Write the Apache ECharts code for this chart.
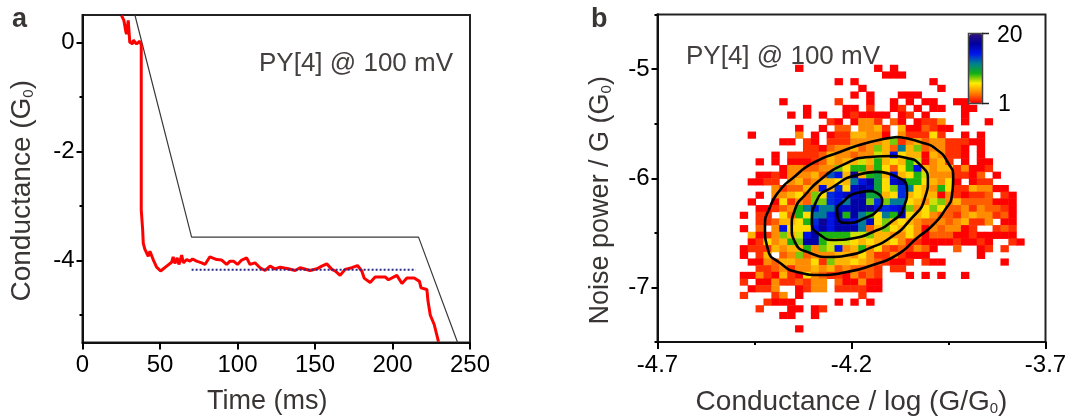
<!DOCTYPE html>
<html>
<head>
<meta charset="utf-8">
<style>html,body{margin:0;padding:0;background:#fff}#chart{width:1072px;height:416px}</style>
<script src="https://cdn.jsdelivr.net/npm/echarts@6/dist/echarts.min.js"></script>
</head>
<body>
<div id="chart"></div>
<script>
// panel a: conductance trace, ms / log G0
var traceTime = [25.2,26.7,28,28.4,29.5,30.5,32.4,32.7,34.9,37,37.9,37.9,37.9,38.8,39.2,40.2,42.4,43.5,44.6,45.6,47.8,50.4,54.3,57.5,58.5,59.6,61.1,62.2,64,65,67.2,69.3,71,73.6,76.9,79,82.2,86.6,89.8,93,95.2,97.4,100,102.7,105.9,108.1,111.3,114.5,117.8,121,124.2,127.5,132.8,137.2,140.4,146.8,151.2,154.4,157.6,160.9,163,166.2,169.4,173.8,177.4,180.2,181.7,185.6,188.8,195.3,197.4,202.8,206.1,209.3,214,217.4,218.4,222.2,222.9,224.4,226.9,229.7];
var traceValue = [0.49,0.4,0.19,0.15,0.4,0,-0.03,0.04,-0.03,0.02,-0.05,-1.5,-3.07,-3.43,-3.68,-3.79,-3.92,-3.83,-3.8,-3.98,-4.12,-4.19,-4.1,-4.03,-3.93,-4.05,-3.95,-4.07,-3.9,-4.04,-3.98,-4.01,-3.97,-4.01,-4.04,-4.07,-3.93,-3.98,-3.99,-4.07,-4.01,-4.01,-4.07,-3.99,-3.95,-4.07,-4.04,-4.13,-4.18,-4.1,-4.15,-4.12,-4.15,-4.18,-4.13,-4.18,-4.15,-4.1,-4.06,-4.16,-4.19,-4.27,-4.16,-4.13,-4.09,-4.19,-4.32,-4.4,-4.3,-4.3,-4.35,-4.27,-4.42,-4.32,-4.32,-4.38,-4.5,-4.53,-4.74,-5,-5.17,-5.49];
var rampLine = [[33.8,0.5],[70.4,-3.57],[216.8,-3.57],[242,-5.5]];
var plateauLine = [[70.4,-4.165],[215,-4.165]];
var aMajorY = [0,-2,-4];
var aMinorY = [-1,-3,-5];
var aTicksX = [0,50,100,150,200,250];

// panel b: 2D histogram, each row top to bottom, one base-36 count per bin
var heatRows = [
".................1.........1.1",
"............................111",
"......................1.1.........1",
".........................1.........1",
"........................1.1...111",
"...............1......2...1..1.1.11..11",
"..................1....11.2..12.1.11..11",
"................1.1.1..121111.12.1....1",
".....................21.1442.31.1224..1..1",
".................1..1.33.4452.5113211",
"...........1.....4.1.12255441.422262..1.1",
"...............11.21.22244445824534422211",
"..................221344534853c58344221.1",
"..............1.2222354434475f655154221.1",
"............1.1.111235455759565971452.1.11",
"...............14433448699496369f545524112",
"............112144453df5i59a5f56974442213.1",
"...........1122.45345565cfha6gh9965461.122",
"..............423354f5e6ghga68ec654962254411",
"............1.4456386efgghaa56e56551421223.21",
"...........1..1624388efchh8e8cc65478453333111",
"............112349cfccgghhifefg84686334243321",
"..........1.22.6396ccfh9hc96c9h65643324544231",
"............2235569eifhgfcg685654334345224.11",
"..........1.3.4f666fhfhhhc35865641434412..232",
"...........5124857fh9999778554464133311211111",
"...........1264598hh9777656556422111121121..21",
"..........122254559487f459463232431..3..12.2",
"..........1.25.3483444554642242111......1",
"...........114355446285565432112.211.......1",
"............2234244545343332.22",
"..........114215216432214232...1.1.1..1",
"..........2.114223244.311411",
"...........1224..1244.222211",
"..........2...24.1.......2",
".............2111.....1.1.1",
"............2...11.12",
"...............11..1",
"",
".................1"
];
var heatColumnCount = 48;

// contour rings
var ring1 = [[-4.083,-5.622],[-4.023,-5.668],[-3.979,-5.741],[-3.951,-5.86],[-3.938,-5.988],[-3.941,-6.153],[-3.959,-6.29],[-3.99,-6.428],[-4.031,-6.547],[-4.083,-6.702],[-4.145,-6.794],[-4.212,-6.858],[-4.281,-6.886],[-4.341,-6.858],[-4.384,-6.776],[-4.415,-6.657],[-4.423,-6.446],[-4.41,-6.263],[-4.384,-6.107],[-4.351,-5.997],[-4.299,-5.86],[-4.23,-5.759],[-4.152,-5.668],[-4.083,-5.622]];
var ring2 = [[-4.093,-5.796],[-4.057,-5.814],[-4.023,-5.878],[-4.003,-6.016],[-4.01,-6.171],[-4.049,-6.382],[-4.101,-6.547],[-4.152,-6.638],[-4.204,-6.702],[-4.255,-6.721],[-4.307,-6.684],[-4.346,-6.583],[-4.354,-6.446],[-4.346,-6.29],[-4.315,-6.135],[-4.281,-6.016],[-4.222,-5.878],[-4.152,-5.805],[-4.093,-5.796]];
var ring3 = [[-4.134,-5.942],[-4.083,-5.988],[-4.057,-6.107],[-4.065,-6.263],[-4.101,-6.409],[-4.145,-6.492],[-4.191,-6.547],[-4.243,-6.565],[-4.281,-6.519],[-4.302,-6.4],[-4.289,-6.199],[-4.248,-6.08],[-4.186,-5.97],[-4.134,-5.942]];
var ring4 = [[-4.147,-6.116],[-4.121,-6.199],[-4.132,-6.29],[-4.165,-6.364],[-4.212,-6.409],[-4.235,-6.364],[-4.237,-6.29],[-4.222,-6.217],[-4.186,-6.135],[-4.147,-6.116]];
var bMajorX = [-4.7,-4.2,-3.7];
var bMinorX = [-4.45,-3.95];
var bMajorY = [-5,-6,-7];
var bMinorY = [-4.5,-5.5,-6.5,-7.5];

var scaleColors = ['#ff0000','#ff8000','#ffee00','#12b012','#008090','#0014f0','#0000a0','#30107a'];

var tracePoints = traceTime.map(function (t, i) { return [t, traceValue[i]]; });
var heatData = [], heatX = [], heatY = [];
for (var c = 0; c < heatColumnCount; c++) heatX.push(c);
heatRows.forEach(function (row, r) {
    heatY.push(r);
    row.split('').forEach(function (ch, c) {
        if (ch !== '.') heatData.push([c, r, parseInt(ch, 36)]);
    });
});

var ink = '#111', titleInk = '#3a3535', tickFont = 24;
var family = '"Liberation Sans", Arial, sans-serif';

function nameStyle(size, padding) {
    return {
        fontFamily: family, fontSize: size, color: titleInk, padding: padding,
        rich: {
            t: { fontFamily: family, fontSize: size, color: titleInk },
            s: { fontFamily: family, fontSize: 15, color: titleInk, verticalAlign: 'bottom', padding: [12, 0, 0, 0] }
        }
    };
}
function valueAxis(index, pos, min, max, ticks, labels, len, extra) {
    var axis = {
        type: 'value', gridIndex: index, position: pos, min: min, max: max, scale: true,
        splitLine: { show: false },
        axisLine: { show: true, onZero: false, lineStyle: { color: ink, width: 2 } },
        axisTick: { show: true, length: len, customValues: ticks, lineStyle: { color: '#000', width: 2 } },
        axisLabel: labels
            ? { show: true, customValues: labels, fontFamily: family, fontSize: tickFont, color: '#000', margin: pos === 'bottom' ? 11 : 8 }
            : { show: false }
    };
    return Object.assign(axis, extra || {});
}
function ringSeries(points) {
    return {
        type: 'line', xAxisIndex: 2, yAxisIndex: 2, data: points, smooth: 0.6, showSymbol: false, symbol: 'none',
        z: 5, animation: false, lineStyle: { color: '#000', width: 2.6 }
    };
}
function label(text, x, y, size, weight, color) {
    return { type: 'text', x: x, y: y, z: 20, style: { text: text, fontFamily: family, fontSize: size, fontWeight: weight, fill: color } };
}

var myChart = echarts.init(document.getElementById('chart'));

var option = {
    animation: false,
    backgroundColor: '#fff',
    grid: [
        { left: 82.5, top: 15, width: 387.5, height: 327.5, show: true, borderColor: '#222', borderWidth: 2, backgroundColor: 'transparent', outerBoundsMode: 'none' },
        { left: 657.5, top: 14.5, width: 388, height: 327.5, show: true, borderColor: '#222', borderWidth: 2, backgroundColor: 'transparent', outerBoundsMode: 'none' },
        { left: 661, top: 65, width: 379.2, height: 267.2, outerBoundsMode: 'none' }
    ],
    xAxis: [
        valueAxis(0, 'bottom', 0, 250, aTicksX, aTicksX, 7, {
            name: 'Time (ms)', nameLocation: 'middle', nameGap: 46, nameTextStyle: nameStyle(27, [0, 18, 0, 0])
        }),
        valueAxis(1, 'bottom', -4.7, -3.7, bMajorX, bMajorX, 7, {
            name: '{t|Conductance / log (G/G}{s|0}{t|)}', nameLocation: 'middle', nameGap: 46, nameTextStyle: nameStyle(28, [0, 0, 0, 0])
        }),
        valueAxis(1, 'bottom', -4.7, -3.7, bMinorX, null, 3),
        { type: 'category', gridIndex: 2, data: heatX, show: false }
    ],
    yAxis: [
        valueAxis(0, 'left', -5.5, 0.5, aMajorY, aMajorY, 6, {
            name: '{t|Conductance (G}{s|0}{t|)}', nameLocation: 'middle', nameGap: 46, nameTextStyle: nameStyle(28, [0, 24, 0, 0])
        }),
        valueAxis(0, 'left', -5.5, 0.5, aMinorY, null, 3),
        valueAxis(1, 'left', -7.5, -4.5, bMajorY, bMajorY, 6, {
            name: '{t|Noise power / G (G}{s|0}{t|)}', nameLocation: 'middle', nameGap: 43, nameTextStyle: nameStyle(27, [0, 44, 0, 0])
        }),
        valueAxis(1, 'left', -7.5, -4.5, bMinorY, null, 3),
        { type: 'category', gridIndex: 2, data: heatY, inverse: true, show: false }
    ],
    visualMap: {
        type: 'continuous', seriesIndex: 3, dimension: 2, min: 1, max: 20,
        left: 969, top: 34, itemWidth: 14, itemHeight: 69, calculable: false, showLabel: false, text: null,
        padding: 0, inRange: { color: scaleColors }
    },
    series: [
        { type: 'line', xAxisIndex: 0, yAxisIndex: 0, data: rampLine, symbol: 'none', lineStyle: { color: '#3a3a3a', width: 1.2 }, z: 2 },
        { type: 'line', xAxisIndex: 0, yAxisIndex: 0, data: tracePoints, symbol: 'none', lineStyle: { color: '#ff0000', width: 3 }, z: 3 },
        { type: 'line', xAxisIndex: 0, yAxisIndex: 0, data: plateauLine, symbol: 'none', lineStyle: { color: '#2a2a8c', width: 2, type: [2, 2] }, z: 4 },
        { type: 'heatmap', xAxisIndex: 3, yAxisIndex: 4, data: heatData, z: 2, progressive: 0, emphasis: { disabled: true } },
        ringSeries(ring1), ringSeries(ring2), ringSeries(ring3), ringSeries(ring4)
    ],
    graphic: [
        label('a', 12, 6, 27, 'bold', titleInk),
        label('b', 591, 6, 27, 'bold', titleInk),
        label('PY[4] @ 100 mV', 259, 51, 26, 'normal', '#454040'),
        label('PY[4] @ 100 mV', 686, 44, 26, 'normal', '#454040'),
        { type: 'rect', z: 20, shape: { x: 968.5, y: 33.5, width: 14, height: 70 }, style: { fill: null, stroke: '#444', lineWidth: 1.5 } },
        { type: 'line', z: 20, shape: { x1: 982, y1: 33.5, x2: 989, y2: 33.5 }, style: { stroke: '#222', lineWidth: 1.5 } },
        { type: 'line', z: 20, shape: { x1: 982, y1: 103.5, x2: 989, y2: 103.5 }, style: { stroke: '#222', lineWidth: 1.5 } },
        label('20', 997, 24, 23, 'normal', '#000'),
        label('1', 998, 93, 23, 'normal', '#000')
    ]
};

myChart.setOption(option);
</script>
</body>
</html>
